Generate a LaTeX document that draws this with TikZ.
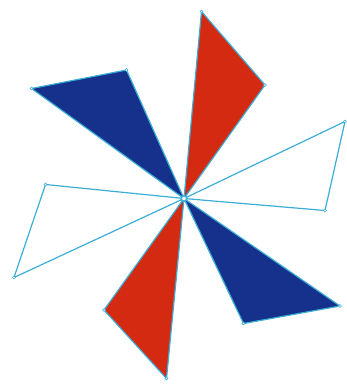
\documentclass[tikz,border=0pt]{standalone}
\definecolor{bladered}{HTML}{D42A12}
\definecolor{bladeblue}{HTML}{15318C}
\definecolor{edgecyan}{HTML}{3AAED6}
\tikzset{
  blade/.style={draw=edgecyan, line width=1.2pt, line join=round},
  redblade/.style={blade, fill=bladered},
  blueblade/.style={blade, fill=bladeblue},
  openblade/.style={blade, fill=none},
  vtx/.style={circle, draw=edgecyan, fill=white, inner sep=0pt, minimum size=3pt, line width=0.6pt},
  hub/.style={circle, draw=edgecyan, fill=white, inner sep=0pt, minimum size=5.5pt, line width=1.5pt}
}
\begin{document}
\begin{tikzpicture}[x=1pt,y=-1pt]
\useasboundingbox (0,0) rectangle (347,384);
\coordinate (O) at (184,198.5);
% red top
\coordinate (rt1) at (201.5,11.5);
\coordinate (rt2) at (265,85);
% blue top-left
\coordinate (bl1) at (31.5,88.5);
\coordinate (bl2) at (126.5,70);
% open right
\coordinate (wr1) at (345,121.5);
\coordinate (wr2) at (325,210.5);
% blue bottom-right
\coordinate (br1) at (340,306);
\coordinate (br2) at (243.5,323.5);
% red bottom
\coordinate (rb1) at (166.5,378.5);
\coordinate (rb2) at (104,310);
% open left
\coordinate (wl1) at (45.5,184.5);
\coordinate (wl2) at (14,277.5);

\draw[redblade] (O) -- (rt1) -- (rt2) -- cycle;
\draw[redblade] (O) -- (rb1) -- (rb2) -- cycle;
\draw[blueblade] (O) -- (bl1) -- (bl2) -- cycle;
\draw[blueblade] (O) -- (br1) -- (br2) -- cycle;
\draw[openblade] (O) -- (wr1) -- (wr2) -- cycle;
\draw[openblade] (O) -- (wl1) -- (wl2) -- cycle;

\foreach \p in {rt1,rt2,bl1,bl2,wr1,wr2,br1,br2,rb1,rb2,wl1,wl2}
  \node[vtx] (v-\p) at (\p) {};
\node[hub] (hubnode) at (O) {};
\end{tikzpicture}
\end{document}
